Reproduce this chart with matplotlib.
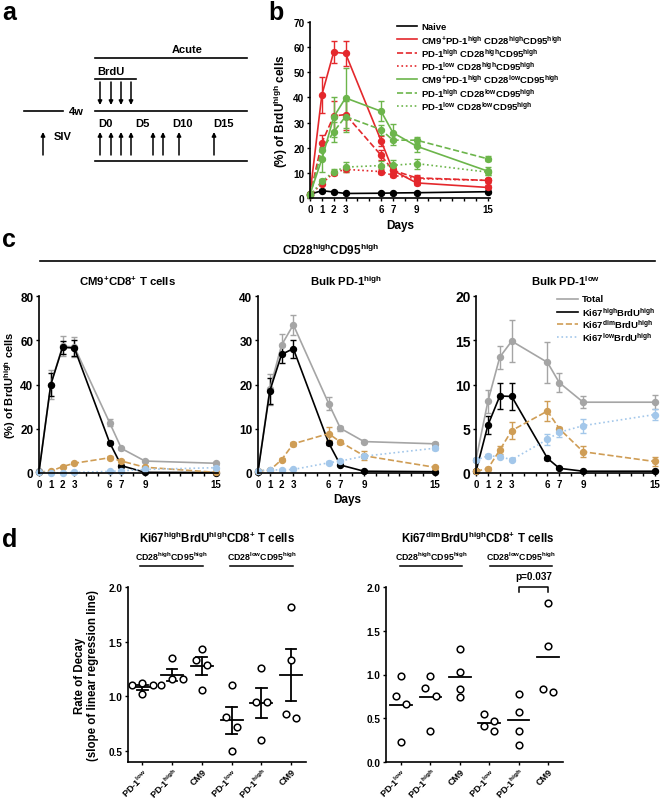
import numpy as np
import matplotlib
matplotlib.use('Agg')
import matplotlib.pyplot as plt
from matplotlib.lines import Line2D

# ---------------- data ----------------
days = [0, 1, 2, 3, 6, 7, 9, 15]
day_labels = ['0', '1', '2', '3', '6', '7', '9', '15']

# panel b
b_naive = [1.5, 2.9, 2.4, 1.8, 1.9, 2.0, 2.1, 2.5]
b_naive_err = [0.3, 0.5, 0.3, 0.2, 0.3, 0.3, 0.3, 0.4]
b_cm9_hh = [1.5, 41.0, 58.0, 57.5, 22.8, 11.0, 6.0, 4.2]
b_cm9_hh_err = [0.5, 7.0, 4.5, 5.0, 2.0, 1.2, 1.0, 0.8]
b_pdhi_hh = [1.0, 22.0, 32.6, 33.2, 17.0, 11.0, 8.0, 7.0]
b_pdhi_hh_err = [0.3, 3.0, 6.0, 6.0, 2.0, 1.0, 1.0, 1.0]
b_pdlo_hh = [1.0, 5.7, 10.0, 11.4, 10.5, 9.0, 7.7, 7.0]
b_pdlo_hh_err = [0.2, 0.6, 0.8, 1.0, 1.0, 0.8, 0.8, 0.7]
b_cm9_lh = [1.5, 15.4, 32.2, 39.8, 34.5, 26.0, 20.6, 10.7]
b_cm9_lh_err = [0.5, 5.0, 8.0, 12.0, 4.0, 3.5, 2.5, 1.5]
b_pdhi_lh = [1.0, 19.0, 26.3, 32.4, 27.2, 23.0, 23.0, 15.6]
b_pdhi_lh_err = [0.3, 3.0, 4.0, 6.0, 2.0, 2.0, 1.2, 1.0]
b_pdlo_lh = [1.0, 6.6, 10.5, 12.3, 12.9, 13.0, 13.7, 10.3]
b_pdlo_lh_err = [0.2, 1.0, 1.0, 2.0, 2.0, 2.0, 2.0, 1.0]
b_labels = ['Naive',
            'CM9$^{+}$PD-1$^{high}$ CD28$^{high}$CD95$^{high}$',
            'PD-1$^{high}$ CD28$^{high}$CD95$^{high}$',
            'PD-1$^{low}$ CD28$^{high}$CD95$^{high}$',
            'CM9$^{+}$PD-1$^{high}$ CD28$^{low}$CD95$^{high}$',
            'PD-1$^{high}$ CD28$^{low}$CD95$^{high}$',
            'PD-1$^{low}$ CD28$^{low}$CD95$^{high}$']

# panel c  (Total, Ki67high, Ki67dim, Ki67low)
c1_total = [1.0, 40.0, 57.3, 57.0, 22.7, 11.1, 5.4, 4.4]
c1_total_err = [0.5, 6.5, 4.5, 4.5, 1.5, 0.8, 0.6, 0.6]
c1_hi = [0.5, 40.0, 56.8, 56.5, 13.7, 3.3, 0.3, 0.2]
c1_hi_err = [0.2, 5.0, 3.0, 3.5, 0.8, 0.5, 0.1, 0.1]
c1_dim = [0.5, 0.8, 2.9, 4.4, 6.9, 5.4, 2.6, 0.3]
c1_dim_err = [0.1, 0.2, 0.3, 0.4, 0.6, 0.5, 0.4, 0.1]
c1_low = [0.5, 0.1, 0.1, 0.3, 0.7, 1.0, 1.6, 2.4]
c1_low_err = [0.1, 0.1, 0.1, 0.1, 0.2, 0.2, 0.3, 0.3]

c2_total = [0.5, 18.9, 28.9, 33.5, 15.7, 10.1, 7.1, 6.6]
c2_total_err = [0.2, 3.5, 2.5, 2.3, 1.5, 0.5, 0.4, 0.4]
c2_hi = [0.3, 18.5, 26.8, 28.1, 6.8, 1.8, 0.4, 0.3]
c2_hi_err = [0.1, 3.0, 2.0, 2.0, 0.5, 0.3, 0.1, 0.1]
c2_dim = [0.5, 0.6, 3.0, 6.6, 8.9, 7.0, 3.9, 1.3]
c2_dim_err = [0.1, 0.2, 0.3, 0.5, 1.5, 0.5, 1.0, 0.3]
c2_low = [0.5, 0.7, 0.7, 0.8, 2.3, 2.7, 3.8, 5.6]
c2_low_err = [0.1, 0.1, 0.1, 0.1, 0.3, 0.3, 0.5, 0.4]

c3_total = [1.5, 8.1, 13.1, 14.9, 12.5, 10.2, 8.0, 8.0]
c3_total_err = [0.2, 1.3, 1.3, 2.4, 2.3, 1.1, 0.7, 0.8]
c3_hi = [0.2, 5.4, 8.7, 8.65, 1.66, 0.53, 0.2, 0.2]
c3_hi_err = [0.1, 1.0, 1.5, 1.5, 0.2, 0.1, 0.1, 0.1]
c3_dim = [0.2, 0.5, 2.6, 4.8, 7.0, 5.0, 2.4, 1.3]
c3_dim_err = [0.1, 0.2, 0.5, 1.0, 1.1, 0.2, 0.6, 0.5]
c3_low = [1.45, 1.95, 1.85, 1.5, 3.8, 4.6, 5.35, 6.6]
c3_low_err = [0.2, 0.2, 0.2, 0.2, 0.6, 0.5, 0.8, 0.6]
c_labels = ['Total', 'Ki67$^{high}$BrdU$^{high}$', 'Ki67$^{dim}$BrdU$^{high}$',
            'Ki67$^{low}$BrdU$^{high}$']
c_titles = ['CM9$^{+}$CD8$^{+}$ T cells', 'Bulk PD-1$^{high}$', 'Bulk PD-1$^{low}$']
c_ylims = [80, 40, 20]
c_yticks = [[0, 20, 40, 60, 80], [0, 10, 20, 30, 40], [0, 5, 10, 15, 20]]

# panel d
d_cats = ['PD-1$^{low}$', 'PD-1$^{high}$', 'CM9', 'PD-1$^{low}$', 'PD-1$^{high}$', 'CM9']
d_left = [[1.10, 1.12, 1.10, 1.02],
          [1.35, 1.16, 1.16, 1.10],
          [1.43, 1.33, 1.29, 1.06],
          [1.10, 0.81, 0.72, 0.50],
          [1.26, 0.95, 0.95, 0.60],
          [1.815, 1.33, 0.80, 0.84]]
d_right = [[0.985, 0.753, 0.66, 0.224],
           [0.985, 0.85, 0.757, 0.357],
           [1.29, 1.03, 0.74, 0.84],
           [0.55, 0.47, 0.41, 0.357],
           [0.78, 0.567, 0.357, 0.198],
           [1.82, 1.33, 0.795, 0.84]]
d_pvalue = 'p=0.037'

# ---------------- style ----------------
W, H = 660, 803
plt.rcParams['font.family'] = ['Liberation Sans', 'DejaVu Sans']
plt.rcParams['font.weight'] = 'bold'
plt.rcParams['mathtext.fontset'] = 'custom'
plt.rcParams['mathtext.rm'] = 'Liberation Sans:bold'
plt.rcParams['mathtext.it'] = 'Liberation Sans:bold'
plt.rcParams['mathtext.bf'] = 'Liberation Sans:bold'
plt.rcParams['mathtext.default'] = 'rm'
plt.rcParams['axes.linewidth'] = 1.2
plt.rcParams['xtick.major.width'] = 1.0
plt.rcParams['ytick.major.width'] = 1.0
plt.rcParams['xtick.major.size'] = 2.5
plt.rcParams['ytick.major.size'] = 2.5
plt.rcParams['xtick.major.pad'] = 1.5
plt.rcParams['ytick.major.pad'] = 1.5

RED = '#e4282c'
GREEN = '#6cb54b'
GRAY = '#a5a5a5'
TAN = '#cf9d55'
BLUE = '#a3c7ea'
MS = 4.3
CAP = 2.4

fig = plt.figure(figsize=(W / 100, H / 100), dpi=100)


def pax(l, t, r, b):
    return fig.add_axes([l / W, 1 - b / H, (r - l) / W, (b - t) / H])


ov = fig.add_axes([0, 0, 1, 1])
ov.set_xlim(0, W)
ov.set_ylim(H, 0)
ov.axis('off')


def style(ax):
    ax.spines['top'].set_visible(False)
    ax.spines['right'].set_visible(False)
    ax.patch.set_alpha(0)


def days_axis(ax, fs=7):
    ax.set_xlim(0, 15.2)
    ax.set_xticks(range(16))
    ax.set_xticklabels([str(d) if d in days else '' for d in range(16)], fontsize=fs)


# ---------------- panel letters ----------------
for t, x, y in [('a', 2, 13), ('b', 268, 13), ('c', 2, 240), ('d', 2, 540)]:
    ov.text(x, y, t, fontsize=18, fontweight='bold', va='center', ha='left')

# ---------------- panel a (schematic) ----------------
lw = 1.2
FA = 8
ov.plot([95, 247], [59, 59], color='k', lw=lw)
ov.text(187, 50, 'Acute', fontsize=FA, ha='center', va='center')
ov.plot([95, 136], [80, 80], color='k', lw=lw)
ov.text(97, 72, 'BrdU', fontsize=FA, ha='left', va='center')
for x in [100, 111, 121, 131]:
    ov.annotate('', xy=(x, 106), xytext=(x, 83),
                arrowprops=dict(arrowstyle='-|>', lw=1.1, color='k', mutation_scale=6,
                                shrinkA=0, shrinkB=0))
ov.plot([24, 63], [112, 112], color='k', lw=lw)
ov.text(76, 112, '4w', fontsize=FA, ha='center', va='center')
ov.plot([95, 247], [112, 112], color='k', lw=lw)
for txt, x in [('D0', 98), ('D5', 135), ('D10', 172), ('D15', 213)]:
    ov.text(x, 124, txt, fontsize=FA, ha='left', va='center')
ov.text(54, 137, 'SIV', fontsize=FA, ha='left', va='center')
for x in [43, 100, 111, 121, 131, 153, 163, 179, 214]:
    ov.annotate('', xy=(x, 133), xytext=(x, 156),
                arrowprops=dict(arrowstyle='-|>', lw=1.1, color='k', mutation_scale=6,
                                shrinkA=0, shrinkB=0))
ov.plot([95, 247], [162, 162], color='k', lw=lw)

# ---------------- panel b ----------------
axb = pax(310, 23, 490, 199)
style(axb)
b_series = [(b_naive, b_naive_err, 'k', '-'),
            (b_cm9_hh, b_cm9_hh_err, RED, '-'),
            (b_pdhi_hh, b_pdhi_hh_err, RED, '--'),
            (b_pdlo_hh, b_pdlo_hh_err, RED, ':'),
            (b_cm9_lh, b_cm9_lh_err, GREEN, '-'),
            (b_pdhi_lh, b_pdhi_lh_err, GREEN, '--'),
            (b_pdlo_lh, b_pdlo_lh_err, GREEN, ':')]
for vals, err, col, ls in b_series:
    axb.errorbar(days, vals, yerr=err, color=col, ls=ls, lw=1.2, marker='o', ms=MS,
                 capsize=CAP, elinewidth=1.0, capthick=1.0, clip_on=False)
axb.set_ylim(0, 70)
axb.set_yticks(range(0, 71, 10))
axb.tick_params(axis='y', labelsize=7.2)
days_axis(axb)
axb.set_xlabel('Days', fontsize=8.5, fontweight='bold', labelpad=4)
axb.set_ylabel('(%) of BrdU$^{high}$ cells', fontsize=8.5, fontweight='bold', labelpad=2)
for i, ((vals, err, col, ls), lab) in enumerate(zip(b_series, b_labels)):
    y = 27 + i * 13.3
    ov.add_line(Line2D([397, 417], [y, y], color=col, ls=ls, lw=1.2))
    ov.text(421, y, lab, fontsize=6.8, ha='left', va='center')

# ---------------- panel c ----------------
ov.text(330, 250, 'CD28$^{high}$CD95$^{high}$', fontsize=8.5, ha='center', va='center')
ov.plot([40, 655], [262, 262], color='k', lw=1.2)
c_data = [
    [(c1_total, c1_total_err), (c1_hi, c1_hi_err), (c1_dim, c1_dim_err), (c1_low, c1_low_err)],
    [(c2_total, c2_total_err), (c2_hi, c2_hi_err), (c2_dim, c2_dim_err), (c2_low, c2_low_err)],
    [(c3_total, c3_total_err), (c3_hi, c3_hi_err), (c3_dim, c3_dim_err), (c3_low, c3_low_err)],
]
c_styles = [(GRAY, '-'), ('k', '-'), (TAN, '--'), (BLUE, ':')]
c_boxes = [(39, 218), (258, 437), (476, 657)]
for k in range(3):
    l, r = c_boxes[k]
    ax = pax(l, 297, r, 474)
    style(ax)
    for (vals, err), (col, ls) in zip(c_data[k], c_styles):
        ax.errorbar(days, vals, yerr=err, color=col, ls=ls, lw=1.2, marker='o', ms=MS,
                    capsize=CAP, elinewidth=1.0, capthick=1.0, clip_on=False)
    ax.set_ylim(0, c_ylims[k])
    ax.set_yticks(c_yticks[k])
    ax.tick_params(axis='y', labelsize=10 if k == 2 else 8.5)
    days_axis(ax)
    ov.text((l + r) / 2 - 1, 281, c_titles[k], fontsize=8.2, ha='center', va='center')
    if k == 0:
        ax.set_ylabel('(%) of BrdU$^{high}$ cells', fontsize=8, fontweight='bold', labelpad=1.5)
    if k == 1:
        ax.set_xlabel('Days', fontsize=8.5, fontweight='bold', labelpad=3)
for i, ((col, ls), lab) in enumerate(zip(c_styles, c_labels)):
    y = 300 + i * 12.6
    ov.add_line(Line2D([557, 578], [y, y], color=col, ls=ls, lw=1.2))
    ov.text(582, y, lab, fontsize=6.8, ha='left', va='center')


# ---------------- panel d ----------------
def swarm(vals, t=0.095, s=0.36):
    order = np.argsort(vals)[::-1]
    offs = np.zeros(len(vals))
    placed = []
    for i in order:
        close = [j for j in placed if abs(vals[i] - vals[j]) < t]
        for c in [0, s, -s, 2 * s, -2 * s, 3 * s, -3 * s]:
            if all(abs(c - offs[j]) >= s * 0.99 for j in close):
                offs[i] = c
                break
        placed.append(i)
    # recentre clusters
    srt = sorted(range(len(vals)), key=lambda i: vals[i])
    clusters, cur = [], [srt[0]]
    for a, b in zip(srt[:-1], srt[1:]):
        if abs(vals[b] - vals[a]) < t:
            cur.append(b)
        else:
            clusters.append(cur)
            cur = [b]
    clusters.append(cur)
    for cl in clusters:
        if len(cl) > 1:
            offs[cl] -= np.mean(offs[cl])
    return offs


def dpanel(ax, groups, ylim, yticks, sem):
    style(ax)
    for i, g in enumerate(groups):
        g = np.array(g)
        off = swarm(g)
        ax.plot(i + off, g, 'o', mfc='white', mec='k', mew=1.1, ms=4.8, clip_on=False, zorder=3)
        m = g.mean()
        ax.plot([i - 0.37, i + 0.37], [m, m], color='k', lw=1.3, zorder=2)
        if sem:
            se = g.std(ddof=1) / np.sqrt(len(g))
            ax.plot([i, i], [m - se, m + se], color='k', lw=1.3, zorder=2)
            for yy in (m - se, m + se):
                ax.plot([i - 0.18, i + 0.18], [yy, yy], color='k', lw=1.3, zorder=2)
    ax.set_ylim(*ylim)
    ax.set_yticks(yticks)
    ax.set_yticklabels(['%.1f' % v for v in yticks], fontsize=7.2)
    ax.set_xticks(range(6))
    ax.set_xticklabels(d_cats, rotation=45, ha='right', rotation_mode='anchor', fontsize=6.5)
    ax.tick_params(axis='x', pad=1, length=2.2)


axdl = pax(128, 588, 306, 763)
dpanel(axdl, d_left, (0.4, 2.0), [0.5, 1.0, 1.5, 2.0], True)
axdl.set_xlim(-0.48, 5.5)
axdl.set_ylabel('Rate of Decay\n(slope of linear regression line)', fontsize=8.3,
                fontweight='bold', labelpad=7, linespacing=1.05)

axdr = pax(386, 588, 563, 763)
dpanel(axdr, d_right, (0.0, 2.0), [0.0, 0.5, 1.0, 1.5, 2.0], False)
axdr.set_xlim(-0.51, 5.51)
# significance bracket
axdr.plot([4, 4, 5, 5], [1.94, 2.005, 2.005, 1.94], color='k', lw=1.1, clip_on=False)
axdr.text(4.5, 2.07, d_pvalue, fontsize=7.2, ha='center', va='bottom', clip_on=False)

ov.text(217, 538, 'Ki67$^{high}$BrdU$^{high}$CD8$^{+}$ T cells', fontsize=8.3, ha='center', va='center')
ov.text(478, 538, 'Ki67$^{dim}$BrdU$^{high}$CD8$^{+}$ T cells', fontsize=8.3, ha='center', va='center')
d_heads = [(140, 203), (230, 293), (400, 462), (490, 552)]
for (x0, x1) in d_heads:
    ov.plot([x0, x1], [567, 567], color='k', lw=1.1)
for (x0, x1), lab in zip(d_heads, ['CD28$^{high}$CD95$^{high}$', 'CD28$^{low}$CD95$^{high}$'] * 2):
    ov.text((x0 + x1) / 2, 557, lab, fontsize=6.3, ha='center', va='center')

fig.savefig('out.png', dpi=100)
